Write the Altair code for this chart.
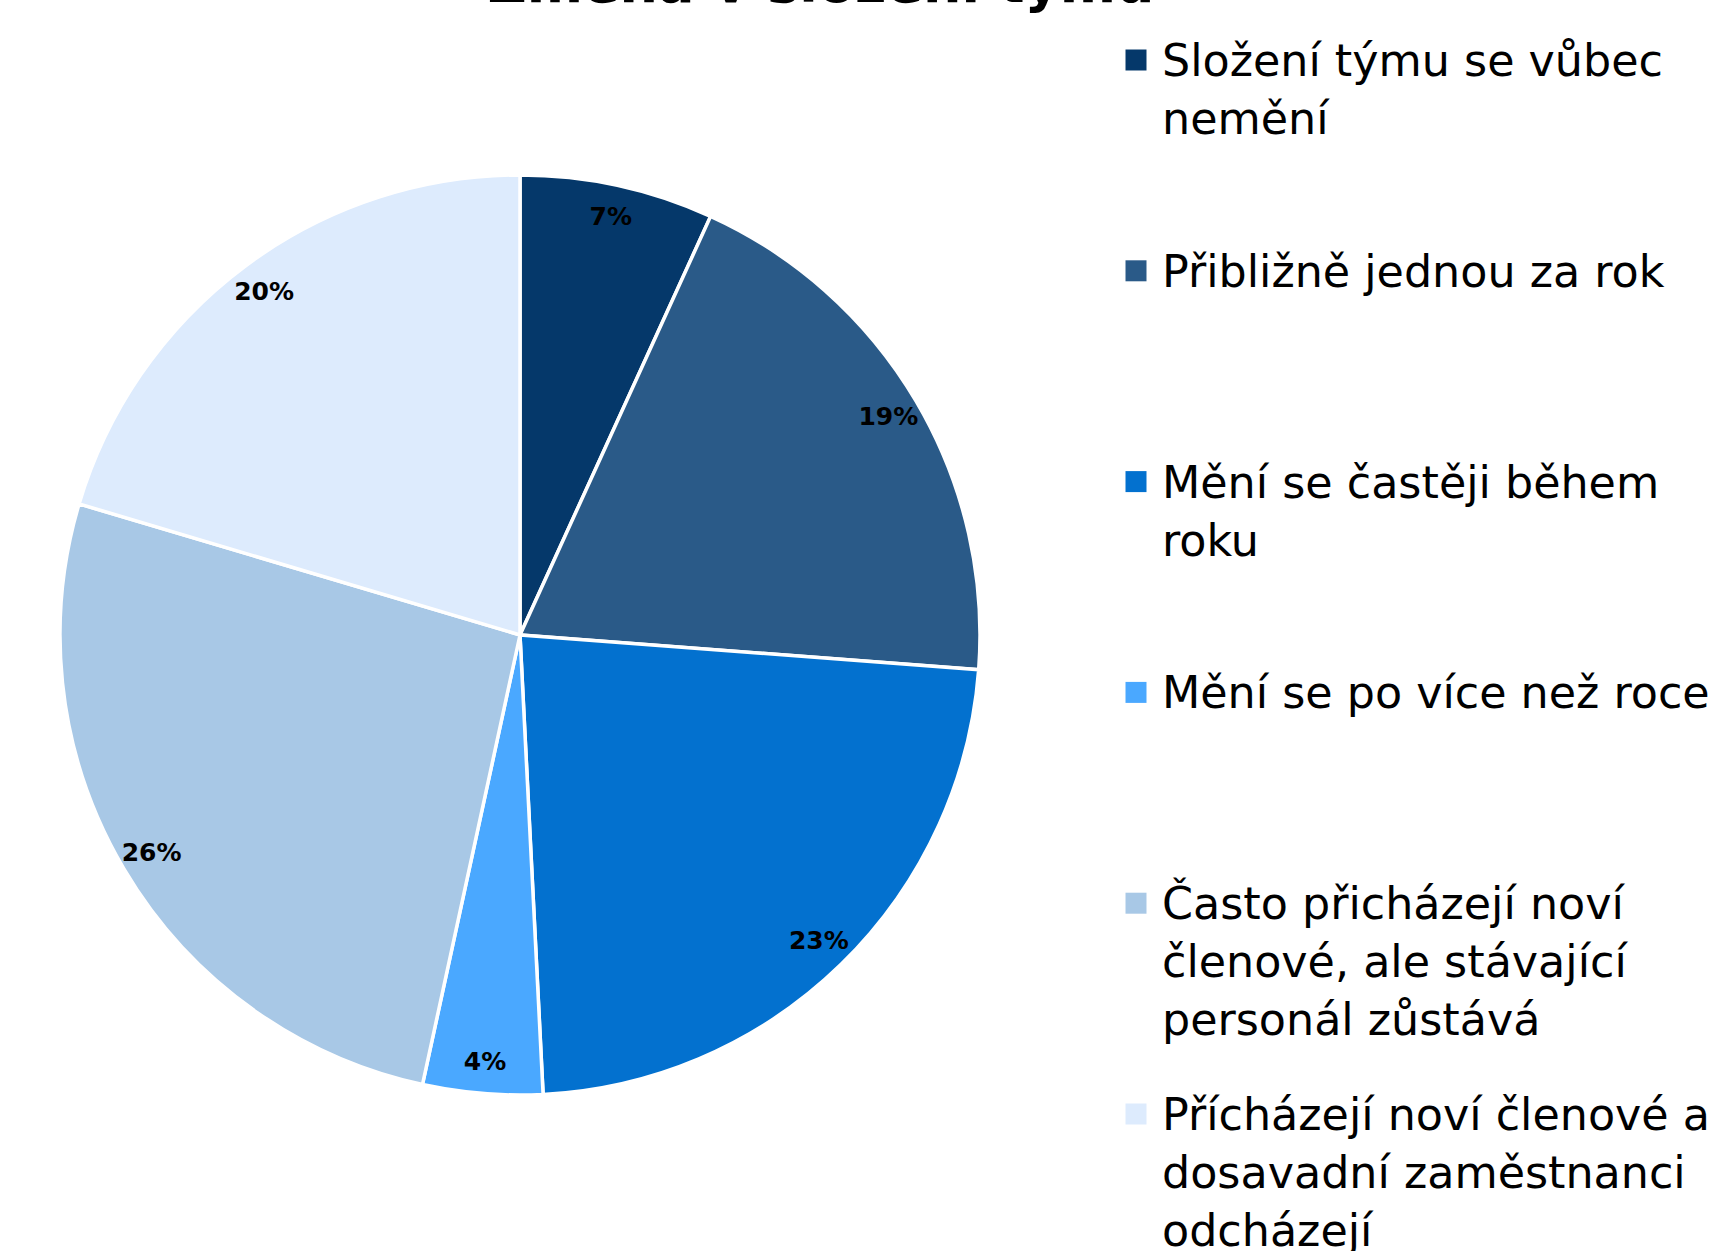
import altair as alt
import pandas as pd

categories = [
    "Složení týmu se vůbec nemění",
    "Přibližně jednou za rok",
    "Mění se častěji během roku",
    "Mění se po více než roce",
    "Často přicházejí noví členové, ale stávající personál zůstává",
    "Přícházejí noví členové a dosavadní zaměstnanci odcházejí",
]
legend_labels = [
    "Složení týmu se vůbec\nnemění",
    "Přibližně jednou za rok",
    "Mění se častěji během\nroku",
    "Mění se po více než roce",
    "Často přicházejí noví\nčlenové, ale stávající\npersonál zůstává",
    "Přícházejí noví členové a\ndosavadní zaměstnanci\nodcházejí",
]
values = [6.8, 19.4, 23.0, 4.2, 26.2, 20.4]
colors = ["#05386A", "#2A5A88", "#0371CF", "#4AA8FF", "#A8C8E6", "#DDEBFD"]
title_text = "Změna v složení týmu"

FONT = "DejaVu Sans"

df = pd.DataFrame({
    "cat": categories,
    "label": legend_labels,
    "value": values,
    "order": list(range(len(categories))),
    "pct": [f"{round(v)}%" for v in values],
})

color = alt.Color("cat:N", scale=alt.Scale(domain=categories, range=colors), legend=None)
CX, CY, R = 520, 635, 460

base = alt.Chart(df)

arcs = base.mark_arc(stroke="white", strokeWidth=3.5).encode(
    theta=alt.Theta("value:Q", stack=True),
    order=alt.Order("order:Q"),
    color=color,
    x=alt.value(CX), y=alt.value(CY),
    radius=alt.value(R),
)

pct = base.mark_text(font=FONT, fontWeight="bold", fontSize=25, color="black").encode(
    theta=alt.Theta("value:Q", stack=True),
    order=alt.Order("order:Q"),
    text="pct:N",
    x=alt.value(CX), y=alt.value(CY),
    radius=alt.value(428),
)

yleg = alt.Y("cat:N", sort=categories,
             scale=alt.Scale(type="point", range=[60, 1114], padding=0), axis=None)

squares = base.mark_square(size=441, opacity=1).encode(
    x=alt.value(1136), y=yleg, color=color,
)

texts = base.mark_text(align="left", baseline="top", fontSize=44.4, lineHeight=58,
                       font=FONT, color="black", dy=-19, lineBreak="\n").encode(
    x=alt.value(1162), y=yleg, text="label:N",
)

title_df = pd.DataFrame({"t": [title_text]})
title = alt.Chart(title_df).mark_text(font=FONT, fontWeight="bold", fontSize=54,
                                      baseline="alphabetic", align="center", color="black").encode(
    x=alt.value(821), y=alt.value(2), text="t:N",
)

chart = alt.layer(arcs, pct, squares, texts, title).properties(
    width=1712, height=1251,
    autosize=alt.AutoSizeParams(type="none"),
    padding=0,
).configure_view(stroke=None)

chart.save("out.html", embed_options={"renderer": "svg", "actions": False})
